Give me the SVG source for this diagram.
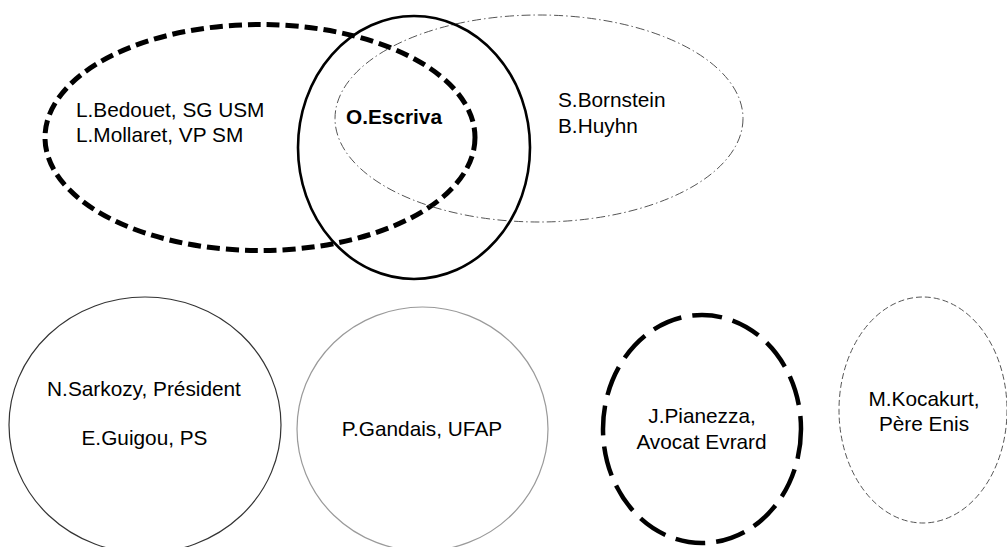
<svg xmlns="http://www.w3.org/2000/svg" width="1007" height="547" viewBox="0 0 1007 547">
<style>
text{font-family:"Liberation Sans",Arial,sans-serif;font-size:20.8px;fill:#000}
.c{text-anchor:middle}
.b{font-weight:bold}
.shape{fill:none}
.thickdash{stroke:#000;stroke-width:5;stroke-dasharray:13 6}
.solid{stroke:#000;stroke-width:2.6}
.dashdot{stroke:#555;stroke-width:1;stroke-dasharray:9 3 1.5 3}
.grey1{stroke:#333;stroke-width:1.2}
.grey2{stroke:#9a9a9a;stroke-width:1.2}
.bigdash{stroke:#000;stroke-width:4.5;stroke-dasharray:30 11}
.thindash{stroke:#555;stroke-width:1;stroke-dasharray:6 3}
</style>
<rect width="1007" height="547" fill="#fff"/>
<g id="connectors"></g>
<g id="usm">
<ellipse class="shape thickdash" cx="260" cy="137.5" rx="215" ry="113"/>
<text x="76" y="117">L.Bedouet, SG USM</text>
<text x="76" y="142">L.Mollaret, VP SM</text>
</g>
<g id="bornstein">
<ellipse class="shape dashdot" cx="539" cy="118.5" rx="204" ry="103.5"/>
<text x="558" y="107">S.Bornstein</text>
<text x="558" y="133">B.Huyhn</text>
</g>
<g id="escriva">
<ellipse class="shape solid" cx="414" cy="147.5" rx="116" ry="131.5"/>
<text class="b" x="346" y="124">O.Escriva</text>
</g>
<g id="sarkozy">
<ellipse class="shape grey1" cx="145" cy="425" rx="136" ry="128"/>
<text class="c" x="144" y="395.5">N.Sarkozy, Président</text>
<text class="c" x="144.5" y="445">E.Guigou, PS</text>
</g>
<g id="gandais">
<ellipse class="shape grey2" cx="422.5" cy="429" rx="125.5" ry="122"/>
<text class="c" x="422" y="436">P.Gandais, UFAP</text>
</g>
<g id="pianezza">
<ellipse class="shape bigdash" cx="702" cy="429" rx="99" ry="114"/>
<text class="c" x="702" y="423">J.Pianezza,</text>
<text class="c" x="701.5" y="449">Avocat Evrard</text>
</g>
<g id="kocakurt">
<ellipse class="shape thindash" cx="923" cy="410" rx="84" ry="113"/>
<text class="c" x="924" y="405.5">M.Kocakurt,</text>
<text class="c" x="924" y="430.5">Père Enis</text>
</g>
</svg>
